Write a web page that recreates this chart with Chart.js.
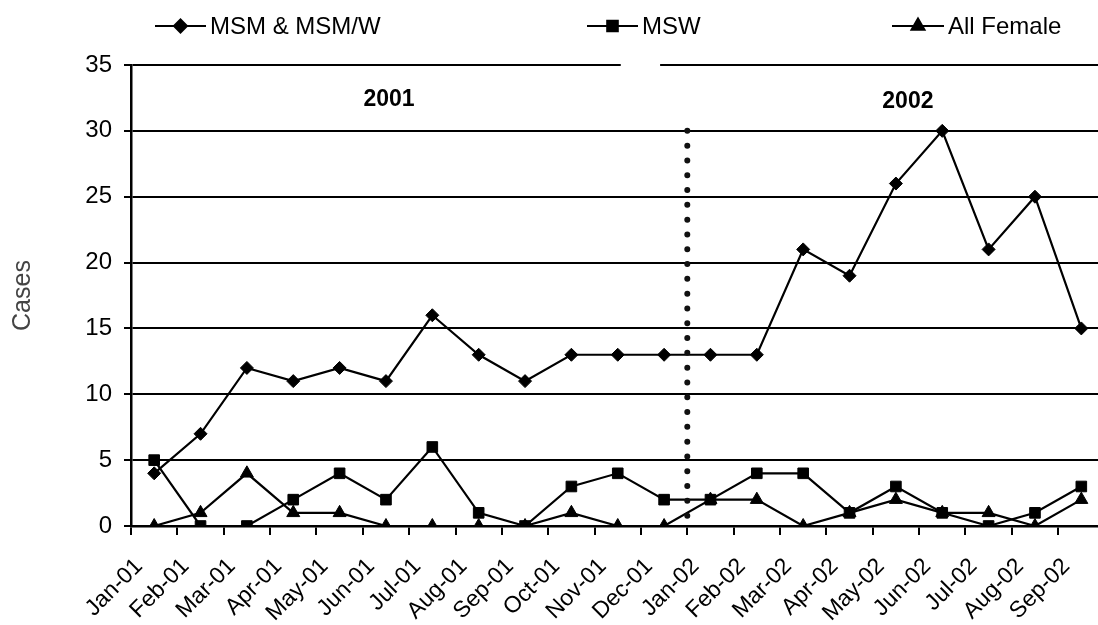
<!DOCTYPE html>
<html>
<head>
<meta charset="utf-8">
<script src="https://cdn.jsdelivr.net/npm/chart.js@4.4.1/dist/chart.umd.min.js"></script>
<style>
  html, body { margin: 0; padding: 0; background: #fff; overflow: hidden; width: 1098px; height: 625px; }
  canvas { display: block; }
</style>
</head>
<body>
<canvas id="c" width="1113" height="625"></canvas>
<script>
// Monthly case counts, January 2001 to September 2002
const months = ['Jan-01','Feb-01','Mar-01','Apr-01','May-01','Jun-01','Jul-01','Aug-01','Sep-01','Oct-01','Nov-01','Dec-01',
                'Jan-02','Feb-02','Mar-02','Apr-02','May-02','Jun-02','Jul-02','Aug-02','Sep-02'];
const msmCases    = [4, 7, 12, 11, 12, 11, 16, 13, 11, 13, 13, 13, 13, 13, 21, 19, 26, 30, 21, 25, 15];
const mswCases    = [5, 0, 0, 2, 4, 2, 6, 1, 0, 3, 4, 2, 2, 4, 4, 1, 3, 1, 0, 1, 3];
const femaleCases = [0, 1, 4, 1, 1, 0, 0, 0, 0, 1, 0, 0, 2, 2, 0, 1, 2, 1, 1, 0, 2];
const yearLabels  = ['2001', '2002'];
const yMax = 35;
const yStep = 5;

const FONT = '"Liberation Sans", Arial, Helvetica, sans-serif';

const seriesStyle = (label, data, pointStyle, radius) => ({
  label, data,
  borderColor: '#000', backgroundColor: '#000',
  borderWidth: 2.2, tension: 0, fill: false,
  pointStyle, pointRadius: radius, pointHoverRadius: radius,
  pointBackgroundColor: '#000', pointBorderColor: '#000', pointBorderWidth: 1
});

// Extra drawing: gap in the top rule, period divider, year captions, legend
const decorations = {
  id: 'decorations',
  beforeDatasetsDraw(chart) {
    const { ctx, scales: { x, y } } = chart;
    ctx.save();
    ctx.fillStyle = '#fff';
    const gx0 = x.getPixelForValue(10) + 3;
    const gx1 = x.getPixelForValue(11) - 4;
    const gy = y.getPixelForValue(yMax);
    ctx.fillRect(gx0, gy - 4, gx1 - gx0, 8);
    ctx.restore();
  },
  afterDatasetsDraw(chart) {
    const { ctx, scales: { x, y } } = chart;
    // dotted divider between Dec-01 and Jan-02
    const dx = (x.getPixelForValue(11) + x.getPixelForValue(12)) / 2;
    ctx.save();
    ctx.strokeStyle = '#111';
    ctx.lineWidth = 6;
    ctx.lineCap = 'round';
    ctx.setLineDash([0, 14.8]);
    ctx.beginPath();
    ctx.moveTo(dx, y.getPixelForValue(30.0));
    ctx.lineTo(dx, y.getPixelForValue(0) + 4);
    ctx.stroke();
    ctx.restore();

    // year captions
    ctx.save();
    ctx.fillStyle = '#000';
    ctx.font = 'bold 23px ' + FONT;
    ctx.textAlign = 'center';
    ctx.textBaseline = 'middle';
    ctx.fillText(yearLabels[0], x.getPixelForValue(5) + 3, y.getPixelForValue(32.4));
    ctx.fillText(yearLabels[1], x.getPixelForValue(16) + 12, y.getPixelForValue(32.2));
    ctx.restore();
  },
  afterDraw(chart) {
    const { ctx } = chart;
    const items = [
      { ds: 0, x0: 155, x1: 206 },
      { ds: 1, x0: 587, x1: 638 },
      { ds: 2, x0: 892, x1: 944 }
    ];
    const ly = 26;
    ctx.save();
    items.forEach(it => {
      const ds = chart.data.datasets[it.ds];
      ctx.strokeStyle = '#000';
      ctx.lineWidth = 2;
      ctx.beginPath();
      ctx.moveTo(it.x0, ly);
      ctx.lineTo(it.x1, ly);
      ctx.stroke();
      ctx.fillStyle = '#000';
      Chart.helpers.drawPoint(ctx, {
        pointStyle: ds.pointStyle, radius: ds.pointRadius, rotation: 0, borderWidth: 1
      }, (it.x0 + it.x1) / 2, ly);
      ctx.fillStyle = '#000';
      ctx.font = '24px ' + FONT;
      ctx.textAlign = 'left';
      ctx.textBaseline = 'middle';
      ctx.fillText(ds.label, it.x1 + 4, ly + 1);
    });
    ctx.restore();
  }
};

new Chart(document.getElementById('c'), {
  type: 'line',
  data: {
    labels: months,
    datasets: [
      seriesStyle('MSM & MSM/W', msmCases, 'rectRot', 6.5),
      seriesStyle('MSW', mswCases, 'rect', 7.5),
      seriesStyle('All Female', femaleCases, 'triangle', 7.5)
    ]
  },
  options: {
    responsive: false,
    animation: false,
    devicePixelRatio: 1,
    layout: { padding: { top: 65, right: 2, bottom: 0, left: 0 } },
    plugins: { legend: { display: false }, tooltip: { enabled: false } },
    scales: {
      x: {
        type: 'category',
        offset: true,
        afterFit(scale) { scale.height = 99; scale.paddingLeft = 0; scale.paddingRight = 0; },
        grid: { offset: true, drawOnChartArea: false, drawTicks: true, tickLength: 9, color: '#000', lineWidth: 2 },
        border: { display: true, color: '#000', width: 2.5 },
        ticks: {
          autoSkip: false, maxRotation: 45, minRotation: 45,
          labelOffset: -15, padding: 18,
          color: '#000', font: { family: FONT, size: 23 }
        }
      },
      y: {
        min: 0, max: yMax,
        afterFit(scale) { scale.width = 131; },
        grid: { color: '#000', lineWidth: 2, tickLength: 7 },
        border: { display: true, color: '#000', width: 2.5 },
        ticks: { stepSize: yStep, padding: 12, color: '#000', font: { family: FONT, size: 24 } },
        title: { display: true, text: 'Cases', color: '#444', font: { family: FONT, size: 25 }, padding: { top: 8, bottom: 0 } }
      }
    }
  },
  plugins: [decorations]
});
</script>
</body>
</html>
